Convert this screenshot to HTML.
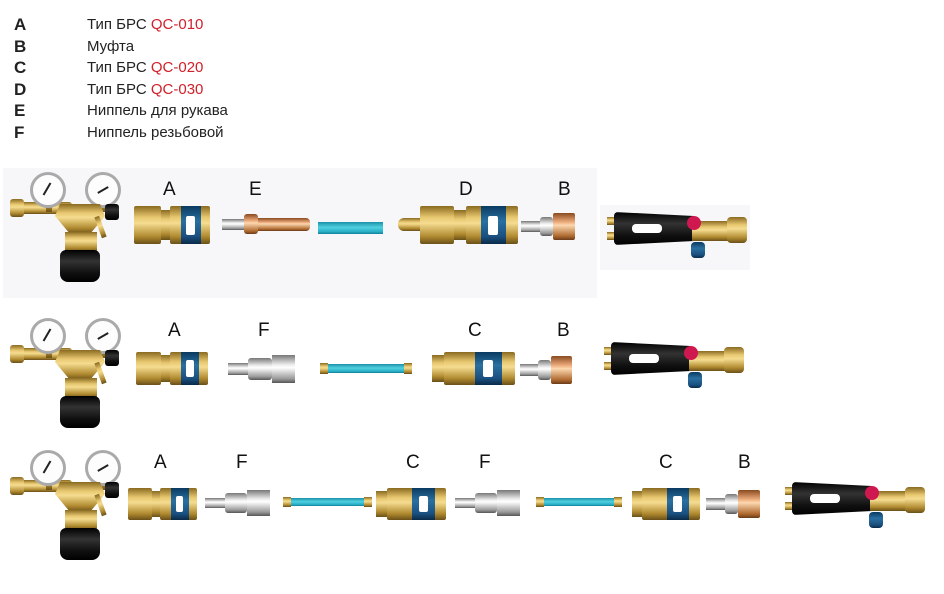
<!DOCTYPE html>
<html><head><meta charset="utf-8"><style>
body{margin:0;width:944px;height:594px;background:#fff;position:relative;overflow:hidden;font-family:"Liberation Sans","DejaVu Sans",sans-serif}
.a{position:absolute}
.lg{position:absolute;font-size:15px;color:#222;line-height:21.5px}
.lg b{font-size:17px;display:block;height:21.5px;line-height:21.5px}
.red{color:#d0202a}
.lab{position:absolute;font-size:19px;color:#111}
.gold{background:linear-gradient(#8a6a20,#e8c870 30%,#f5dc90 45%,#b08a30 80%,#6a5018)}
.silv{background:linear-gradient(#777,#eee 35%,#fff 45%,#999 85%,#555)}
.copp{background:linear-gradient(#8a4a20,#f0b080 35%,#fcd8b0 45%,#b06a30 85%,#6a3a18)}
.blue{background:linear-gradient(#0a3a60,#2a70a0 40%,#1a5080 80%,#0a2a48)}
.cyan{background:linear-gradient(#1a90a8,#50d0e0 45%,#2ab0c8 80%,#108098)}
.blk{background:linear-gradient(#000,#333 35%,#111 70%,#000)}
</style></head><body>
<div class="lg" style="left:14px;top:14px"><b>A</b><b>B</b><b>C</b><b>D</b><b>E</b><b>F</b></div>
<div class="lg" style="left:87px;top:14px">Тип БРС <span class="red">QC-010</span><br>Муфта<br>Тип БРС <span class="red">QC-020</span><br>Тип БРС <span class="red">QC-030</span><br>Ниппель для рукава<br>Ниппель резьбовой</div>
<div class="a" style="left:3px;top:168px;width:594px;height:130px;background:#f7f7fa"></div>
<div class="a" style="left:600px;top:205px;width:150px;height:65px;background:#f7f7fa"></div>
<div id="c"></div>
<script>
var h='';
function r(x,y,w,hh,cls,st){h+='<div class="a '+(cls||'')+'" style="left:'+x+'px;top:'+y+'px;width:'+w+'px;height:'+hh+'px;'+(st||'')+'"></div>';}
function t(x,y,s){h+='<div class="lab" style="left:'+x+'px;top:'+y+'px">'+s+'</div>';}
function reg(x,y){
 r(x+2,y+30,60,12,'gold','border-radius:3px');
 r(x,y+27,14,18,'gold','border-radius:3px');
 r(x+36,y+10,6,30,'gold');r(x+90,y+10,6,30,'gold');
 r(x+20,y,36,36,'','border-radius:50%;background:#fdfdfd;border:3px solid #aaa;box-sizing:border-box');
 r(x+75,y,36,36,'','border-radius:50%;background:#fdfdfd;border:3px solid #aaa;box-sizing:border-box');
 r(x+36,y+10,2,14,'','background:#222;transform:rotate(30deg)');
 r(x+92,y+12,2,12,'','background:#222;transform:rotate(60deg)');
 r(x+45,y+32,50,30,'gold','clip-path:polygon(10% 0,90% 0,100% 40%,70% 100%,30% 100%,0 40%)');
 r(x+55,y+60,32,20,'gold');
 r(x+50,y+78,40,32,'blk','border-radius:6px 6px 8px 8px');
 r(x+95,y+32,14,16,'blk','border-radius:3px');
 r(x+88,y+44,5,22,'gold','transform:rotate(-20deg)');
}
function coupA(x,y,w,hh){
 r(x,y,w*0.35,hh,'gold','border-radius:2px');
 r(x+w*0.35,y+hh*0.1,w*0.12,hh*0.8,'gold');
 r(x+w*0.47,y,w*0.53,hh,'gold','border-radius:2px');
 r(x+w*0.62,y,w*0.26,hh,'blue');
 r(x+w*0.69,y+hh*0.25,w*0.11,hh*0.5,'','background:#fff;border-radius:2px');
}
function coupC(x,y,w,hh){
 r(x,y+hh*0.1,w*0.15,hh*0.8,'gold');
 r(x+w*0.15,y,w*0.85,hh,'gold','border-radius:2px');
 r(x+w*0.52,y,w*0.32,hh,'blue');
 r(x+w*0.61,y+hh*0.25,w*0.13,hh*0.5,'','background:#fff;border-radius:2px');
}
function nipF(x,y,w,hh){
 r(x,y+hh*0.3,w*0.3,hh*0.4,'silv');
 r(x+w*0.3,y+hh*0.1,w*0.35,hh*0.8,'silv','border-radius:3px');
 r(x+w*0.65,y,w*0.35,hh,'silv');
}
function mufB(x,y,w,hh){
 r(x,y+hh*0.3,w*0.35,hh*0.4,'silv');
 r(x+w*0.35,y+hh*0.15,w*0.25,hh*0.7,'silv','border-radius:3px');
 r(x+w*0.6,y,w*0.4,hh,'copp','border-radius:2px');
}
function hose(x,y,w,hh,ends){
 r(x,y,w,hh,'cyan');
 if(ends){r(x-2,y-1,8,hh+2,'gold');r(x+w-6,y-1,8,hh+2,'gold');}
}
function torch(x,y){
 r(x,y+5,8,8,'gold');r(x,y+20,8,8,'gold');
 r(x+7,y,80,33,'blk','border-radius:4px;clip-path:polygon(0 0,100% 12%,100% 88%,0 100%)');
 r(x+25,y+12,30,9,'','background:#fff;border-radius:4px');
 r(x+85,y+9,38,20,'gold');
 r(x+120,y+5,20,26,'gold','border-radius:4px');
 r(x+80,y+4,14,14,'','background:#d01850;border-radius:50%');
 r(x+84,y+30,14,16,'blue','border-radius:4px');
}
reg(10,172);
t(163,179,'A');t(249,179,'E');t(459,179,'D');t(558,179,'B');
coupA(134,206,76,38);
r(222,219,22,11,'silv');r(244,214,14,20,'copp','border-radius:3px');r(258,218,52,13,'copp','border-radius:0 4px 4px 0');
hose(318,222,65,12,false);
r(398,218,22,13,'gold','border-radius:6px 0 0 6px');coupA(420,206,98,38);
mufB(521,213,54,27);
torch(607,212);
reg(10,318);
t(168,320,'A');t(258,320,'F');t(468,320,'C');t(557,320,'B');
coupA(136,352,72,33);nipF(228,355,67,28);hose(322,364,88,9,true);coupC(432,352,83,33);mufB(520,356,52,28);torch(604,342);
reg(10,450);
t(154,452,'A');t(236,452,'F');t(406,452,'C');t(479,452,'F');t(659,452,'C');t(738,452,'B');
coupA(128,488,69,32);nipF(205,490,65,26);hose(285,498,85,8,true);coupC(376,488,70,32);nipF(455,490,65,26);hose(538,498,82,8,true);coupC(632,488,68,32);mufB(706,490,54,28);torch(785,482);
document.getElementById('c').innerHTML=h;
</script>
</body></html>
